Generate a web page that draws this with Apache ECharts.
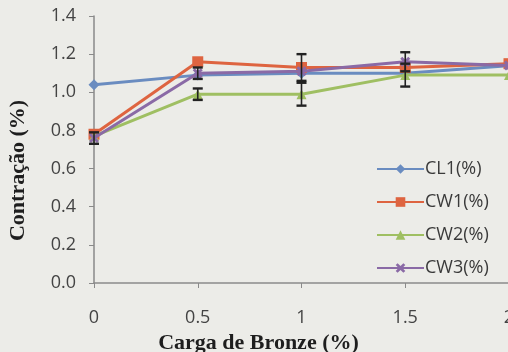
<!DOCTYPE html>
<html>
<head>
<meta charset="utf-8">
<script src="https://cdn.jsdelivr.net/npm/echarts@6/dist/echarts.min.js"></script>
<style>
  html, body { margin: 0; padding: 0; background: #ecece8; }
  #chart { width: 508px; height: 352px; }
</style>
</head>
<body>
<div id="chart"></div>
<script>
// Bronze load (%) on the x axis
const cargas = [0, 0.5, 1, 1.5, 2];

// Shrinkage (%) per mix
const cl1 = [1.04, 1.09, 1.10, 1.10, 1.14];
const cw1 = [0.78, 1.16, 1.13, 1.13, 1.15];
const cw2 = [0.77, 0.99, 0.99, 1.09, 1.09];
const cw3 = [0.76, 1.10, 1.11, 1.16, 1.14];

// Standard deviations (error bars)
const cl1Err = [0, 0, 0, 0, 0];
const cw1Err = [0, 0, 0.07, 0, 0];
const cw2Err = [0, 0.03, 0.06, 0.06, 0];
const cw3Err = [0.03, 0.03, 0, 0.05, 0];

const yTicks = [0, 0.2, 0.4, 0.6, 0.8, 1.0, 1.2, 1.4];

const names = ['CL1(%)', 'CW1(%)', 'CW2(%)', 'CW3(%)'];
const values = [cl1, cw1, cw2, cw3];
const errs = [cl1Err, cw1Err, cw2Err, cw3Err];
const colors = ['#6a8cc0', '#de6440', '#9fbf62', '#8a6aa6'];
const symbols = [
  'diamond',
  'rect',
  'triangle',
  'path://M2,0L5,3L8,0L10,2L7,5L10,8L8,10L5,7L2,10L0,8L3,5L0,2Z'
];
const symbolSizes = [11, 11, 10, 10];

const pairs = arr => arr.map((v, i) => [cargas[i], v]);

const errData = [];
values.forEach((arr, s) => {
  arr.forEach((v, i) => {
    const e = errs[s][i];
    if (e > 0) errData.push([cargas[i], v - e, v + e]);
  });
});

const lineSeries = names.map((n, s) => ({
  name: n,
  type: 'line',
  data: pairs(values[s]),
  symbol: symbols[s],
  symbolSize: symbolSizes[s],
  showAllSymbol: true,
  clip: false,
  lineStyle: { color: colors[s], width: 3 },
  itemStyle: { color: colors[s] },
  z: 3 + s
}));

const errSeries = {
  type: 'custom',
  data: errData,
  z: 10,
  silent: true,
  renderItem: (params, api) => {
    const x = api.value(0);
    const lo = api.coord([x, api.value(1)]);
    const hi = api.coord([x, api.value(2)]);
    const cap = 5;
    const style = { stroke: '#222', lineWidth: 1.6 };
    return {
      type: 'group',
      children: [
        { type: 'line', shape: { x1: lo[0], y1: lo[1], x2: hi[0], y2: hi[1] }, style },
        { type: 'line', shape: { x1: lo[0] - cap, y1: lo[1], x2: lo[0] + cap, y2: lo[1] }, style: { stroke: '#222', lineWidth: 2.4 } },
        { type: 'line', shape: { x1: hi[0] - cap, y1: hi[1], x2: hi[0] + cap, y2: hi[1] }, style: { stroke: '#222', lineWidth: 2.4 } }
      ]
    };
  }
};

const chart = echarts.init(document.getElementById('chart'), null, { renderer: 'canvas' });
chart.setOption({
  backgroundColor: '#ecece8',
  animation: false,
  grid: {
    left: 94, right: -1, top: 16, bottom: 69,
    containLabel: false,
    outerBoundsMode: 'none'
  },
  legend: {
    orient: 'vertical',
    left: 371,
    top: 155,
    itemGap: 15,
    itemWidth: 47,
    itemHeight: 12,
    data: names,
    textStyle: { fontFamily: 'Open Sans', fontSize: 18, color: '#3a3a3a', padding: [0, 0, 0, -4] }
  },
  xAxis: {
    type: 'value',
    min: 0,
    max: 2,
    interval: 0.5,
    name: 'Carga de Bronze (%)',
    nameLocation: 'middle',
    nameGap: 45,
    nameTextStyle: {
      fontFamily: 'Liberation Serif', fontWeight: 'bold', fontSize: 22, color: '#1e1e1e',
      padding: [0, 86, 0, 0]
    },
    axisLine: { show: true, lineStyle: { color: '#8a8a8a', width: 1.5 } },
    axisTick: { show: true, length: 5, lineStyle: { color: '#8a8a8a' } },
    splitLine: { show: false },
    axisLabel: {
      margin: 26,
      fontFamily: 'Open Sans',
      fontSize: 18,
      color: '#444',
      formatter: v => String(v)
    }
  },
  yAxis: {
    type: 'value',
    min: 0,
    max: 1.4,
    interval: 0.2,
    name: 'Contração (%)',
    nameLocation: 'middle',
    nameGap: 65,
    nameRotate: 90,
    nameTextStyle: {
      fontFamily: 'Liberation Serif', fontWeight: 'bold', fontSize: 22, color: '#1e1e1e',
      padding: [0, 42, 0, 0]
    },
    axisLine: { show: true, lineStyle: { color: '#8a8a8a', width: 1.5 } },
    axisTick: { show: true, length: 5, lineStyle: { color: '#8a8a8a' } },
    splitLine: { show: false },
    axisLabel: {
      margin: 18,
      fontFamily: 'Open Sans',
      fontSize: 18,
      color: '#444',
      formatter: v => {
        const t = yTicks.find(k => Math.abs(k - v) < 1e-6);
        return (t !== undefined ? t : v).toFixed(1);
      }
    }
  },
  series: [...lineSeries, errSeries]
});
</script>
</body>
</html>
